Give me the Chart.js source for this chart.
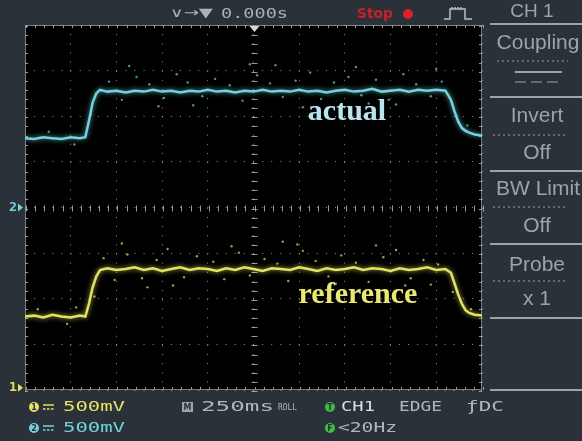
<!DOCTYPE html>
<html>
<head>
<meta charset="utf-8">
<script src="https://cdn.jsdelivr.net/npm/chart.js"></script>
<style>
  html, body { margin: 0; padding: 0; background: #2b3139; }
  #wrap { width: 582px; height: 441px; }
</style>
</head>
<body>
<div id="wrap"><canvas id="scope" width="582" height="441"></canvas></div>
<script>
// ---- captured data (time in s, level in V) ----
var sampleTime = [-1.25,-1.20,-1.15,-1.10,-1.05,-1.00,-0.95,-0.92,-0.90,-0.88,-0.86,-0.84,
  -0.80,-0.75,-0.70,-0.65,-0.60,-0.55,-0.50,-0.45,-0.40,-0.35,-0.30,-0.25,-0.20,-0.15,-0.10,-0.05,
  0.00,0.05,0.10,0.15,0.20,0.25,0.30,0.35,0.40,0.45,0.50,0.55,0.60,0.65,0.70,0.75,0.80,0.85,0.90,0.95,1.00,1.05,
  1.08,1.10,1.12,1.14,1.16,1.18,1.21,1.25];

// CH1 = reference (yellow)
var ch1Volts = [0.78,0.79,0.77,0.80,0.78,0.77,0.79,0.78,0.92,1.10,1.22,1.29,
  1.31,1.29,1.30,1.32,1.29,1.31,1.28,1.30,1.32,1.29,1.31,1.30,1.28,1.31,1.29,1.32,
  1.30,1.28,1.31,1.30,1.29,1.32,1.30,1.28,1.31,1.29,1.30,1.32,1.29,1.31,1.30,1.28,1.31,1.29,1.30,1.32,1.29,1.30,
  1.26,1.14,1.02,0.92,0.85,0.82,0.80,0.79];

// CH2 = actual (cyan)
var ch2Volts = [0.76,0.75,0.77,0.76,0.75,0.77,0.76,0.77,0.95,1.15,1.25,1.29,
  1.27,1.28,1.26,1.28,1.27,1.29,1.27,1.28,1.26,1.28,1.27,1.29,1.27,1.28,1.26,1.28,
  1.27,1.29,1.27,1.28,1.27,1.29,1.27,1.28,1.26,1.28,1.29,1.27,1.28,1.30,1.27,1.28,1.29,1.27,1.29,1.28,1.29,1.28,
  1.18,1.05,0.94,0.87,0.84,0.82,0.80,0.79];

// stray noise samples around each trace
var ch1NoiseTime = [-1.18,-1.02,-0.97,-0.87,-0.82,-0.76,-0.69,-0.61,-0.53,-0.47,-0.38,-0.31,-0.22,-0.16,-0.08,
  -0.02,0.06,0.13,0.19,0.27,0.34,0.41,0.48,0.56,0.63,0.71,0.78,0.86,0.93,1.01,1.09,1.13,1.19,
  -0.72,-0.44,-0.12,0.16,0.45,0.67,0.97,-0.58,0.24,0.83];
var ch1NoiseVolts = [0.86,0.70,0.88,1.00,1.42,1.18,1.46,1.20,1.40,1.52,1.21,1.44,1.38,1.19,1.48,
  1.23,1.41,1.36,1.17,1.50,1.39,1.22,1.45,1.37,1.16,1.43,1.51,1.20,1.40,1.35,1.05,0.96,0.86,
  1.58,1.12,1.55,1.60,1.14,1.56,1.13,1.10,1.57,1.12];
var ch2NoiseTime = [-1.12,-0.98,-0.89,-0.79,-0.72,-0.64,-0.57,-0.49,-0.42,-0.36,-0.28,-0.21,-0.13,-0.06,0.02,
  0.09,0.16,0.23,0.31,0.37,0.44,0.52,0.59,0.67,0.74,0.82,0.89,0.97,1.03,1.11,1.17,
  -0.68,-0.33,-0.02,0.27,0.56,0.78,1.00,-0.52,0.12,0.63];
var ch2NoiseVolts = [0.83,0.69,1.02,1.38,1.18,1.43,1.35,1.20,1.46,1.37,1.22,1.41,1.34,1.17,1.45,
  1.36,1.21,1.39,1.48,1.19,1.37,1.43,1.23,1.40,1.18,1.46,1.35,1.22,1.38,1.00,0.90,
  1.55,1.12,1.57,1.10,1.54,1.13,1.52,1.11,1.56,1.14];

var voltsPerDiv = 0.5;     // both channels 500mV/div
var ch1Offset = -3.95;     // ground marker "1" (divisions from centre)
var ch2Offset = 0;         // ground marker "2"
var timeRange = [-1.25, 1.25]; // 250ms/div, 10 div
var divRange = [-4, 4];

var yellow = '#e4e262';
var cyan = '#72d2de';
var panelGrey = '#9ba3ab';

function toPoints(ts, vs, off) {
  return ts.map(function (t, i) { return { x: t, y: off + vs[i] / voltsPerDiv }; });
}

function fitText(ctx, str, x, y, w, font, color) {
  ctx.save();
  ctx.font = font;
  ctx.fillStyle = color;
  ctx.textBaseline = 'middle';
  ctx.textAlign = 'left';
  var m = ctx.measureText(str).width;
  ctx.translate(x, y);
  ctx.scale(w / m, 1);
  ctx.fillText(str, 0, 0);
  ctx.restore();
}

function centerText(ctx, str, x, y, font, color) {
  ctx.save();
  ctx.font = font;
  ctx.fillStyle = color;
  ctx.textBaseline = 'middle';
  ctx.textAlign = 'center';
  ctx.fillText(str, x, y);
  ctx.restore();
}

function badge(ctx, x, y, label, fill) {
  ctx.save();
  ctx.fillStyle = fill;
  ctx.beginPath();
  ctx.arc(x, y, 5, 0, Math.PI * 2);
  ctx.fill();
  ctx.fillStyle = '#2b3139';
  ctx.font = 'bold 8px "DejaVu Sans"';
  ctx.textAlign = 'center';
  ctx.textBaseline = 'middle';
  ctx.fillText(label, x, y + 0.5);
  ctx.restore();
}

function dcSymbol(ctx, x, y, color) {
  ctx.save();
  ctx.strokeStyle = color;
  ctx.lineWidth = 1.5;
  ctx.beginPath(); ctx.moveTo(x, y - 2); ctx.lineTo(x + 11, y - 2); ctx.stroke();
  ctx.setLineDash([2.5, 1.5]);
  ctx.beginPath(); ctx.moveTo(x, y + 2); ctx.lineTo(x + 11, y + 2); ctx.stroke();
  ctx.restore();
}

function hLine(ctx, x1, x2, y, dash) {
  ctx.save();
  ctx.strokeStyle = panelGrey;
  ctx.lineWidth = dash ? 1 : 2;
  if (dash) ctx.setLineDash(dash);
  ctx.beginPath(); ctx.moveTo(x1, y); ctx.lineTo(x2, y); ctx.stroke();
  ctx.restore();
}

var scopeDecor = {
  id: 'scopeDecor',
  beforeDraw: function (chart) {
    var ctx = chart.ctx, a = chart.chartArea;
    ctx.save();
    ctx.fillStyle = '#2b3139';
    ctx.fillRect(0, 0, chart.width, chart.height);
    ctx.fillStyle = '#000';
    ctx.fillRect(a.left, a.top, a.right - a.left, a.bottom - a.top);
    ctx.restore();
  },
  beforeDatasetsDraw: function (chart) {
    var ctx = chart.ctx, a = chart.chartArea;
    var xs = chart.scales.x, ys = chart.scales.y;
    var cx = Math.round(xs.getPixelForValue(0)) + 0.5;
    var cy = Math.round(ys.getPixelForValue(0)) + 0.5;
    var stepX = (xs.getPixelForValue(0.25) - xs.getPixelForValue(0)) / 5;
    var stepY = (ys.getPixelForValue(0) - ys.getPixelForValue(1)) / 5;
    ctx.save();
    ctx.strokeStyle = 'rgba(190,190,190,0.8)';
    ctx.lineWidth = 1;
    ctx.beginPath();
    var i, px, py;
    for (i = -25; i <= 25; i++) {
      px = Math.round(cx + i * stepX) + 0.5;
      ctx.moveTo(px, cy - 3); ctx.lineTo(px, cy + 3);
      ctx.moveTo(px, a.top); ctx.lineTo(px, a.top + 3);
      ctx.moveTo(px, a.bottom); ctx.lineTo(px, a.bottom - 3);
    }
    for (i = -20; i <= 20; i++) {
      py = Math.round(cy + i * stepY) + 0.5;
      ctx.moveTo(cx - 3, py); ctx.lineTo(cx + 3, py);
      ctx.moveTo(a.left, py); ctx.lineTo(a.left + 3, py);
      ctx.moveTo(a.right, py); ctx.lineTo(a.right - 3, py);
    }
    ctx.stroke();
    // frame
    ctx.strokeStyle = 'rgba(150,156,162,0.8)';
    ctx.strokeRect(a.left + 0.5, a.top + 0.5, a.right - a.left - 1, a.bottom - a.top - 1);
    // trigger position marker
    ctx.fillStyle = '#d8d8d8';
    ctx.beginPath();
    ctx.moveTo(cx - 5, a.top + 1); ctx.lineTo(cx + 5, a.top + 1); ctx.lineTo(cx, a.top + 7);
    ctx.closePath(); ctx.fill();
    ctx.restore();
  },
  beforeDatasetDraw: function (chart, args) {
    var ds = chart.data.datasets[args.index];
    chart.ctx.save();
    if (ds.glow) {
      chart.ctx.shadowColor = ds.glow;
      chart.ctx.shadowBlur = 5;
    }
  },
  afterDatasetDraw: function (chart) {
    chart.ctx.restore();
  },
  afterDraw: function (chart) {
    var ctx = chart.ctx, a = chart.chartArea;
    var ys = chart.scales.y;

    // annotations
    ctx.save();
    ctx.font = 'bold 30px "Liberation Serif"';
    ctx.textAlign = 'center';
    ctx.textBaseline = 'alphabetic';
    ctx.fillStyle = '#b9e6ee';
    ctx.fillText('actual', 347, 120);
    ctx.fillStyle = '#e8e872';
    ctx.fillText('reference', 358, 303);
    ctx.restore();

    // ground markers
    var g2 = ys.getPixelForValue(ch2Offset), g1 = ys.getPixelForValue(ch1Offset);
    fitText(ctx, '2', 9, g2, 8, 'bold 13px "DejaVu Sans Mono"', cyan);
    fitText(ctx, '1', 9, g1, 8, 'bold 13px "DejaVu Sans Mono"', yellow);
    ctx.save();
    ctx.fillStyle = cyan;
    ctx.beginPath(); ctx.moveTo(18, g2 - 4); ctx.lineTo(23, g2); ctx.lineTo(18, g2 + 4); ctx.fill();
    ctx.fillStyle = yellow;
    ctx.beginPath(); ctx.moveTo(18, g1 - 4); ctx.lineTo(23, g1); ctx.lineTo(18, g1 + 4); ctx.fill();
    ctx.restore();

    // top status bar
    fitText(ctx, '\u2228\u2192\u25BC', 170, 14, 43, '13px "DejaVu Sans"', '#a9b1b9');
    fitText(ctx, '0.000s', 221, 14, 67, '14px "DejaVu Sans Mono"', '#a9b1b9');
    fitText(ctx, 'Stop', 357, 14, 36, 'bold 14px "DejaVu Sans"', '#c82028');
    ctx.save();
    ctx.fillStyle = '#e0202a';
    ctx.beginPath(); ctx.arc(408, 14, 5, 0, Math.PI * 2); ctx.fill();
    ctx.strokeStyle = '#b8c0c8';
    ctx.lineWidth = 1.5;
    ctx.beginPath();
    ctx.moveTo(444, 19); ctx.lineTo(450, 19); ctx.lineTo(450, 9); ctx.lineTo(465, 9);
    ctx.lineTo(465, 19); ctx.lineTo(472, 19);
    for (var k = 452; k <= 463; k += 3) { ctx.moveTo(k, 9); ctx.lineTo(k, 7); }
    ctx.stroke();
    ctx.restore();

    // right menu panel
    centerText(ctx, 'CH 1', 532, 12, '19px "Liberation Sans"', panelGrey);
    hLine(ctx, 490, 582, 24);
    centerText(ctx, 'Coupling', 538, 43, '21px "Liberation Sans"', panelGrey);
    hLine(ctx, 497, 568, 61, [2, 3]);
    hLine(ctx, 515, 562, 72);
    hLine(ctx, 515, 562, 82, [11, 5]);
    hLine(ctx, 490, 582, 97);
    centerText(ctx, 'Invert', 537, 116, '21px "Liberation Sans"', panelGrey);
    hLine(ctx, 493, 568, 135, [2, 3]);
    centerText(ctx, 'Off', 537, 153, '21px "Liberation Sans"', panelGrey);
    hLine(ctx, 490, 582, 171);
    centerText(ctx, 'BW Limit', 538, 189, '21px "Liberation Sans"', panelGrey);
    hLine(ctx, 493, 568, 207, [2, 3]);
    centerText(ctx, 'Off', 537, 226, '21px "Liberation Sans"', panelGrey);
    hLine(ctx, 490, 582, 244);
    centerText(ctx, 'Probe', 537, 265, '21px "Liberation Sans"', panelGrey);
    hLine(ctx, 493, 568, 281, [2, 3]);
    centerText(ctx, 'x 1', 537, 299, '21px "Liberation Sans"', panelGrey);
    hLine(ctx, 490, 582, 318);
    hLine(ctx, 490, 582, 390);

    // bottom status bar
    badge(ctx, 34, 407, '1', yellow);
    dcSymbol(ctx, 43, 407, yellow);
    fitText(ctx, '500mV', 63, 407, 62, '14px "DejaVu Sans Mono"', yellow);
    badge(ctx, 34, 428, '2', cyan);
    dcSymbol(ctx, 43, 428, cyan);
    fitText(ctx, '500mV', 63, 428, 62, '14px "DejaVu Sans Mono"', cyan);

    ctx.save();
    ctx.fillStyle = '#9ea4aa';
    ctx.fillRect(182, 402, 11, 10);
    ctx.fillStyle = '#2b3139';
    ctx.font = 'bold 8px "DejaVu Sans"';
    ctx.textAlign = 'center'; ctx.textBaseline = 'middle';
    ctx.fillText('M', 187.5, 407.5);
    ctx.restore();
    fitText(ctx, '250ms', 201, 407, 73, '14px "DejaVu Sans Mono"', '#b0b6bc');
    fitText(ctx, 'ROLL', 278, 408, 19, '9px "DejaVu Sans Mono"', '#b0b6bc');

    badge(ctx, 330, 407, 'T', '#3dbd44');
    fitText(ctx, 'CH1', 341, 407, 34, '14px "DejaVu Sans Mono"', '#dcdfe2');
    fitText(ctx, 'EDGE', 399, 407, 43, '14px "DejaVu Sans Mono"', '#b0b6bc');
    fitText(ctx, '\u0192DC', 466, 407, 38, '14px "DejaVu Sans Mono"', '#b0b6bc');
    badge(ctx, 330, 428, 'F', '#3dbd44');
    fitText(ctx, '<20Hz', 338, 428, 59, '14px "DejaVu Sans Mono"', '#b0b6bc');
  }
};

var gridStyle = {
  color: 'rgba(205,205,205,0.7)',
  lineWidth: 1,
  drawTicks: false
};

new Chart(document.getElementById('scope'), {
  type: 'line',
  data: {
    datasets: [
      {
        type: 'scatter',
        data: toPoints(ch1NoiseTime, ch1NoiseVolts, ch1Offset),
        pointRadius: 1.2, pointBorderWidth: 0,
        backgroundColor: 'rgba(228,226,98,0.7)', showLine: false
      },
      {
        type: 'scatter',
        data: toPoints(ch2NoiseTime, ch2NoiseVolts, ch2Offset),
        pointRadius: 1.2, pointBorderWidth: 0,
        backgroundColor: 'rgba(114,210,222,0.7)', showLine: false
      },
      {
        label: 'CH1 reference',
        data: toPoints(sampleTime, ch1Volts, ch1Offset),
        borderColor: yellow, borderWidth: 2.5, pointRadius: 0, tension: 0,
        glow: 'rgba(228,226,98,0.8)'
      },
      {
        label: 'CH2 actual',
        data: toPoints(sampleTime, ch2Volts, ch2Offset),
        borderColor: cyan, borderWidth: 2.5, pointRadius: 0, tension: 0,
        glow: 'rgba(114,210,222,0.8)'
      }
    ]
  },
  options: {
    responsive: false,
    animation: false,
    layout: { padding: { left: 25, top: 25, right: 100, bottom: 51 } },
    plugins: { legend: { display: false }, tooltip: { enabled: false } },
    scales: {
      x: {
        type: 'linear', min: timeRange[0], max: timeRange[1],
        ticks: { display: false, stepSize: 0.25 },
        grid: gridStyle,
        border: { display: false, dash: [1, 8.14] }
      },
      y: {
        type: 'linear', min: divRange[0], max: divRange[1],
        ticks: { display: false, stepSize: 1 },
        grid: gridStyle,
        border: { display: false, dash: [1, 8.12] }
      }
    }
  },
  plugins: [scopeDecor]
});
</script>
</body>
</html>
